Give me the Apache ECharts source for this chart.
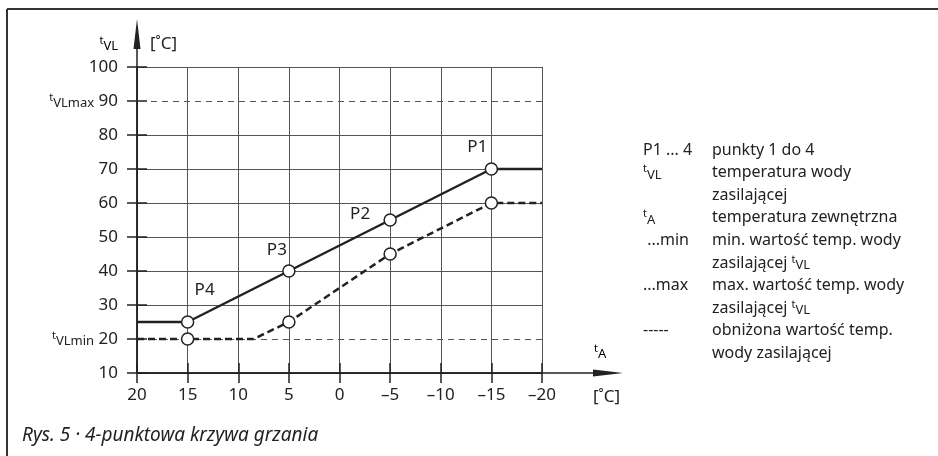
<!DOCTYPE html>
<html>
<head>
<meta charset="utf-8">
<script src="https://cdn.jsdelivr.net/npm/echarts@6/dist/echarts.min.js"></script>
<style>
html,body{margin:0;padding:0;background:#fff}
#chart{width:938px;height:456px}
</style>
</head>
<body>
<div id="chart"></div>
<script>
// heating curve, normal supply temperature (solid) - outside temp / supply temp
const supplyOutside = [20, 15, 5, -5, -15, -20]
const supplyTemp = [25, 25, 40, 55, 70, 70]
const supplyMarked = [false, true, true, true, true, false]
const pointNames = ['', 'P4', 'P3', 'P2', 'P1', '']
// reduced supply temperature (dashed)
const reducedOutside = [20, 15, 8.5, 5, -5, -15, -20]
const reducedTemp = [20, 20, 20, 25, 45, 60, 60]
const reducedMarked = [false, true, false, true, true, true, false]
// tVLmin / tVLmax reference lines
const limitValues = [90, 20]
const limitNames = ['max', 'min']
// legend on the right
const legendKeys = ['P1 ... 4', '{t|t}{s|VL}', '', '{t|t}{s|A}', ' ...min', '', '...max', '', '-----', '']
const legendTexts = [
	'punkty 1 do 4',
	'temperatura wody',
	'zasilającej',
	'temperatura zewnętrzna',
	'min. wartość temp. wody',
	'zasilającej {t|t}{s|VL}',
	'max. wartość temp. wody',
	'zasilającej {t|t}{s|VL}',
	'obniżona wartość temp.',
	'wody zasilającej'
]
const caption = 'Rys. 5 · 4-punktowa krzywa grzania'

const font = 'Noto Sans'
const ink = '#222'
const labelOffsets = {P1: [-14, -2], P2: [-30, 14], P3: [-12, -1], P4: [17, -12]}

const chart = echarts.init(document.getElementById('chart'))

const supplyData = supplyOutside.map((x, i) => ({
	value: [x, supplyTemp[i]],
	symbol: supplyMarked[i] ? 'circle' : 'none',
	label: pointNames[i] ? {show: true, formatter: pointNames[i], offset: labelOffsets[pointNames[i]]} : {show: false}
}))
const reducedData = reducedOutside.map((x, i) => ({
	value: [x, reducedTemp[i]],
	symbol: reducedMarked[i] ? 'circle' : 'none'
}))

const subRich = {
	t: {fontSize: 11, fontFamily: font, color: ink, verticalAlign: 'top', lineHeight: 18},
	s: {fontSize: 13, fontFamily: font, color: ink, verticalAlign: 'bottom', lineHeight: 18},
	n: {fontSize: 17, fontFamily: font, color: ink, lineHeight: 18}
}

const axisCommonX = {type: 'value', min: -20, max: 20, interval: 5, inverse: true, position: 'bottom'}
const axisCommonY = {type: 'value', min: 10, max: 100, interval: 10, position: 'left'}
// split line colours per tick (10..100); 20 and 90 drawn as dashed marklines instead
const yGridColors = [10, 20, 30, 40, 50, 60, 70, 80, 90, 100].map(v => limitValues.includes(v) ? 'rgba(0,0,0,0)' : '#555')

chart.setOption({
	animation: false,
	grid: {left: 137, top: 67, width: 405, height: 306},
	xAxis: [
		{
			...axisCommonX,
			axisLine: {onZero: false, lineStyle: {color: ink, width: 1.5}},
			axisTick: {length: 10, lineStyle: {color: ink, width: 1.5}},
			axisLabel: {
				margin: 14, fontSize: 17, fontFamily: font, color: ink,
				formatter: v => String(v).replace('-', '–')
			},
			splitLine: {show: true, lineStyle: {color: '#555', width: 1}}
		},
		{
			...axisCommonX,
			axisLine: {show: false, onZero: false},
			axisTick: {inside: true, length: 10, lineStyle: {color: ink, width: 1.5}},
			axisLabel: {show: false},
			splitLine: {show: false}
		}
	],
	yAxis: [
		{
			...axisCommonY,
			axisLine: {onZero: false, lineStyle: {color: ink, width: 1.5}},
			axisTick: {length: 10, lineStyle: {color: ink, width: 1.5}},
			axisLabel: {
				margin: 19, fontSize: 17, fontFamily: font, color: ink,
				formatter: v => {
					const i = limitValues.indexOf(v)
					return i < 0 ? '{n|' + v + '}' : '{t|t}{s|VL' + limitNames[i] + '} {n|' + v + '}'
				},
				rich: subRich
			},
			splitLine: {show: true, lineStyle: {color: yGridColors, width: 1}}
		},
		{
			...axisCommonY,
			axisLine: {show: false, onZero: false},
			axisTick: {inside: true, length: 10, lineStyle: {color: ink, width: 1.5}},
			axisLabel: {show: false},
			splitLine: {show: false}
		}
	],
	series: [
		{
			type: 'line',
			name: 'limits',
			data: [],
			z: 1,
			markLine: {
				silent: true,
				z: 1,
				symbol: 'none',
				label: {show: false},
				lineStyle: {color: '#555', width: 1, type: [6, 5]},
				data: limitValues.map(v => ({yAxis: v}))
			}
		},
		{
			type: 'line',
			name: 'reduced',
			data: reducedData,
			symbolSize: 12,
			z: 3,
			lineStyle: {color: ink, width: 2.5, type: [7, 4]},
			itemStyle: {color: '#fff', borderColor: ink, borderWidth: 1.5}
		},
		{
			type: 'line',
			name: 'supply',
			data: supplyData,
			symbolSize: 12,
			z: 4,
			lineStyle: {color: ink, width: 2.5},
			itemStyle: {color: '#fff', borderColor: ink, borderWidth: 1.5},
			label: {position: 'top', fontSize: 17, fontFamily: font, color: ink}
		}
	]
})

// axis arrows, axis titles, legend and caption
const origin = chart.convertToPixel({xAxisIndex: 0, yAxisIndex: 0}, [20, 10])
const ax = origin[0], ay = origin[1]
const xEnd = 623, yEnd = 19
const graphics = [
	{type: 'line', shape: {x1: 7, y1: 9, x2: 938, y2: 9}, style: {stroke: '#333', lineWidth: 2}},
	{type: 'line', shape: {x1: 7, y1: 9, x2: 7, y2: 456}, style: {stroke: '#333', lineWidth: 2}},
	{type: 'line', shape: {x1: ax, y1: ay, x2: xEnd - 20, y2: ay}, style: {stroke: ink, lineWidth: 1.5}},
	{type: 'polygon', shape: {points: [[xEnd, ay], [xEnd - 30, ay - 3.5], [xEnd - 30, ay + 3.5]]}, style: {fill: ink}},
	{type: 'line', shape: {x1: ax, y1: ay, x2: ax, y2: yEnd + 20}, style: {stroke: ink, lineWidth: 1.5}},
	{type: 'polygon', shape: {points: [[ax, yEnd], [ax - 3.5, yEnd + 30], [ax + 3.5, yEnd + 30]]}, style: {fill: ink}},
	{type: 'text', x: 118, y: 44, style: {text: '{t|t}{s|VL}', rich: subRich, align: 'right', verticalAlign: 'middle'}},
	{type: 'text', x: 150, y: 44, style: {text: '[˚C]', font: '17px "' + font + '"', fill: ink, verticalAlign: 'middle'}},
	{type: 'text', x: 594, y: 352, style: {text: '{t|t}{s|A}', rich: subRich, verticalAlign: 'middle'}},
	{type: 'text', x: 593, y: 397, style: {text: '[˚C]', font: '17px "' + font + '"', fill: ink, verticalAlign: 'middle'}},
	{type: 'text', x: 22, y: 436, style: {text: caption, font: 'italic 19px "' + font + '"', fill: ink, verticalAlign: 'middle'}}
]
legendTexts.forEach((txt, i) => {
	const y = 150 + i * 22.6
	graphics.push({type: 'text', x: 643, y: y, style: {text: legendKeys[i], rich: subRich, font: '16px "' + font + '"', fill: ink, verticalAlign: 'middle'}})
	graphics.push({type: 'text', x: 712, y: y, style: {text: txt, rich: subRich, font: '16px "' + font + '"', fill: ink, verticalAlign: 'middle'}})
})
chart.setOption({graphic: graphics})
</script>
</body>
</html>
